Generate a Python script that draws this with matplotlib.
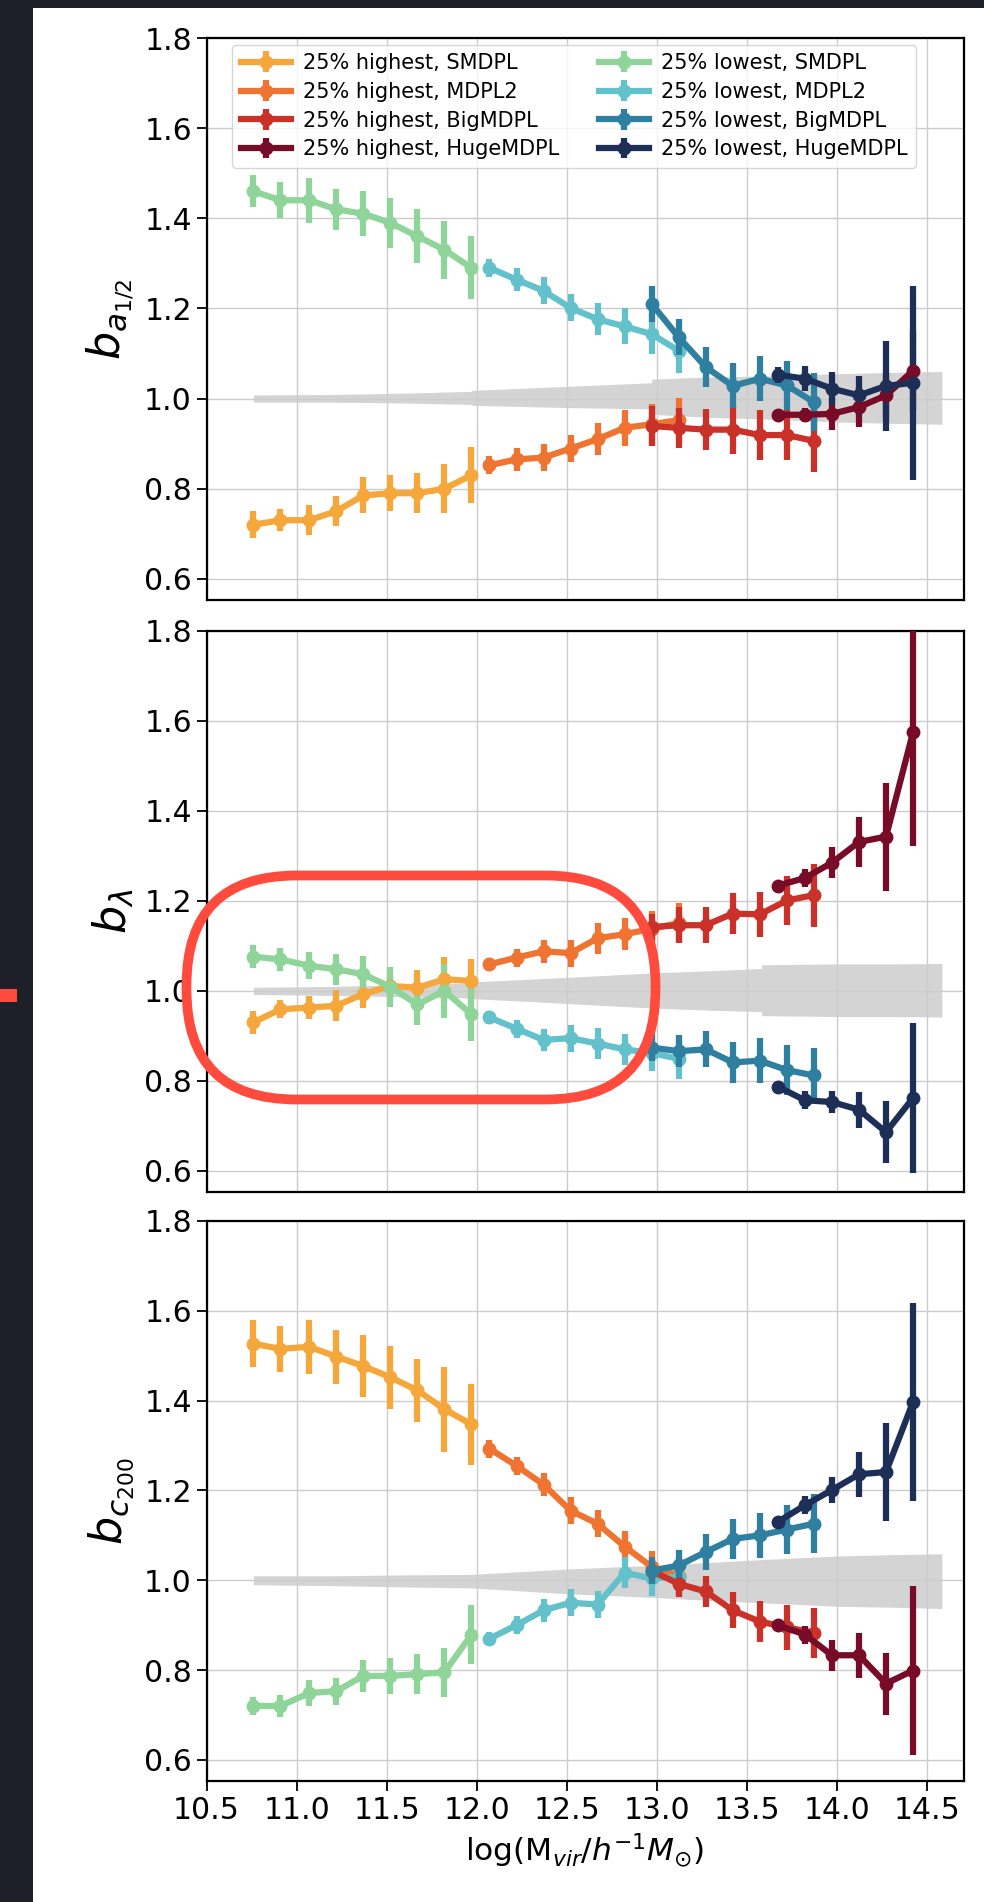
import matplotlib
matplotlib.use('Agg')
import matplotlib.pyplot as plt
import matplotlib.transforms as mtransforms
from matplotlib.patches import FancyBboxPatch, Rectangle

# ---------------- data ----------------
x_smdpl = [10.76, 10.91, 11.07, 11.22, 11.37, 11.52, 11.67, 11.82, 11.97]
x_mdpl2 = [12.07, 12.22, 12.37, 12.52, 12.67, 12.82, 12.97, 13.12]
x_big = [12.97, 13.12, 13.27, 13.42, 13.57, 13.72, 13.87]
x_huge = [13.67, 13.82, 13.97, 14.12, 14.27, 14.42]

# panel 1: b_{a1/2}
a_hi_smdpl = [0.72, 0.73, 0.73, 0.75, 0.785, 0.79, 0.79, 0.80, 0.83]
a_hi_smdpl_err = [0.03, 0.025, 0.033, 0.033, 0.04, 0.04, 0.045, 0.055, 0.062]
a_lo_smdpl = [1.46, 1.44, 1.44, 1.42, 1.41, 1.39, 1.36, 1.33, 1.29]
a_lo_smdpl_err = [0.035, 0.04, 0.05, 0.045, 0.05, 0.055, 0.06, 0.065, 0.07]
a_hi_mdpl2 = [0.852, 0.865, 0.869, 0.889, 0.91, 0.935, 0.943, 0.952]
a_hi_mdpl2_err = [0.02, 0.025, 0.03, 0.03, 0.035, 0.04, 0.045, 0.05]
a_lo_mdpl2 = [1.29, 1.264, 1.239, 1.201, 1.176, 1.16, 1.143, 1.106]
a_lo_mdpl2_err = [0.02, 0.025, 0.03, 0.03, 0.035, 0.04, 0.045, 0.05]
a_hi_big = [0.939, 0.935, 0.931, 0.931, 0.919, 0.919, 0.906]
a_hi_big_err = [0.045, 0.045, 0.045, 0.055, 0.055, 0.055, 0.07]
a_lo_big = [1.21, 1.136, 1.07, 1.028, 1.044, 1.029, 0.992]
a_lo_big_err = [0.04, 0.04, 0.045, 0.05, 0.05, 0.055, 0.065]
a_hi_huge = [0.964, 0.964, 0.966, 0.981, 1.007, 1.062]
a_hi_huge_err = [0.01, 0.015, 0.035, 0.045, 0.05, 0.09]
a_lo_huge = [1.053, 1.044, 1.022, 1.007, 1.028, 1.035]
a_lo_huge_err = [0.018, 0.028, 0.037, 0.044, 0.1, 0.215]

# panel 2: b_lambda
l_hi_smdpl = [0.930, 0.959, 0.963, 0.967, 0.993, 1.011, 1.007, 1.026, 1.022]
l_hi_smdpl_err = [0.025, 0.02, 0.025, 0.035, 0.03, 0.03, 0.04, 0.05, 0.05]
l_lo_smdpl = [1.076, 1.070, 1.056, 1.048, 1.037, 1.009, 0.970, 1.0, 0.948]
l_lo_smdpl_err = [0.025, 0.025, 0.03, 0.035, 0.04, 0.045, 0.045, 0.06, 0.06]
l_hi_mdpl2 = [1.059, 1.074, 1.088, 1.084, 1.117, 1.126, 1.138, 1.151]
l_hi_mdpl2_err = [0.015, 0.02, 0.025, 0.03, 0.035, 0.035, 0.04, 0.045]
l_lo_mdpl2 = [0.941, 0.916, 0.891, 0.895, 0.883, 0.870, 0.862, 0.849]
l_lo_mdpl2_err = [0.015, 0.02, 0.025, 0.03, 0.035, 0.035, 0.04, 0.045]
l_hi_big = [1.142, 1.146, 1.146, 1.172, 1.170, 1.201, 1.213]
l_hi_big_err = [0.03, 0.04, 0.04, 0.045, 0.05, 0.055, 0.07]
l_lo_big = [0.874, 0.866, 0.870, 0.841, 0.845, 0.824, 0.812]
l_lo_big_err = [0.03, 0.035, 0.04, 0.045, 0.05, 0.055, 0.06]
l_hi_huge = [1.234, 1.251, 1.285, 1.331, 1.343, 1.575]
l_hi_huge_err = [0.01, 0.02, 0.035, 0.055, 0.12, 0.253]
l_lo_huge = [0.787, 0.757, 0.753, 0.736, 0.686, 0.762]
l_lo_huge_err = [0.01, 0.02, 0.025, 0.04, 0.069, 0.167]

# panel 3: b_{c200}
c_hi_smdpl = [1.527, 1.515, 1.520, 1.498, 1.477, 1.452, 1.423, 1.381, 1.347]
c_hi_smdpl_err = [0.052, 0.052, 0.06, 0.06, 0.07, 0.07, 0.07, 0.095, 0.09]
c_lo_smdpl = [0.720, 0.720, 0.749, 0.753, 0.787, 0.787, 0.791, 0.795, 0.879]
c_lo_smdpl_err = [0.02, 0.025, 0.03, 0.03, 0.035, 0.04, 0.045, 0.055, 0.065]
c_hi_mdpl2 = [1.293, 1.255, 1.213, 1.155, 1.126, 1.075, 1.03, 1.01]
c_hi_mdpl2_err = [0.02, 0.02, 0.025, 0.03, 0.03, 0.035, 0.035, 0.04]
c_lo_mdpl2 = [0.870, 0.900, 0.933, 0.950, 0.946, 1.017, 1.004, 1.008]
c_lo_mdpl2_err = [0.015, 0.02, 0.025, 0.03, 0.03, 0.035, 0.04, 0.04]
c_hi_big = [1.021, 0.992, 0.975, 0.933, 0.908, 0.895, 0.883]
c_hi_big_err = [0.025, 0.03, 0.035, 0.04, 0.045, 0.05, 0.055]
c_lo_big = [1.021, 1.033, 1.063, 1.092, 1.100, 1.113, 1.126]
c_lo_big_err = [0.03, 0.035, 0.04, 0.045, 0.05, 0.055, 0.065]
c_hi_huge = [0.900, 0.879, 0.833, 0.833, 0.770, 0.799]
c_hi_huge_err = [0.01, 0.02, 0.035, 0.05, 0.069, 0.188]
c_lo_huge = [1.130, 1.167, 1.201, 1.236, 1.241, 1.397]
c_lo_huge_err = [0.01, 0.02, 0.03, 0.05, 0.109, 0.22]

# grey noise band around 1
band_x = [10.76, 11.2, 11.6, 11.97, 11.97, 12.5, 12.97, 12.97, 13.3, 13.58, 13.58, 14.0, 14.3, 14.58]
a_band_up = [0.008, 0.009, 0.012, 0.016, 0.018, 0.027, 0.035, 0.043, 0.048, 0.05, 0.05, 0.055, 0.058, 0.06]
a_band_dn = [0.008, 0.008, 0.010, 0.013, 0.015, 0.02, 0.023, 0.035, 0.042, 0.045, 0.045, 0.052, 0.055, 0.057]
l_band_up = [0.008, 0.010, 0.014, 0.018, 0.02, 0.03, 0.04, 0.04, 0.045, 0.05, 0.058, 0.06, 0.06, 0.061]
l_band_dn = [0.008, 0.010, 0.013, 0.016, 0.017, 0.028, 0.038, 0.038, 0.043, 0.046, 0.055, 0.057, 0.057, 0.058]
c_band_up = [0.01, 0.01, 0.012, 0.013, 0.013, 0.025, 0.033, 0.033, 0.04, 0.046, 0.046, 0.054, 0.057, 0.059]
c_band_dn = [0.01, 0.012, 0.015, 0.017, 0.017, 0.03, 0.038, 0.038, 0.045, 0.05, 0.05, 0.058, 0.06, 0.063]

sims = ['SMDPL', 'MDPL2', 'BigMDPL', 'HugeMDPL']
hi_colors = ['#f5a73b', '#f07431', '#c93129', '#780b27']
lo_colors = ['#8fd498', '#62c1ca', '#2e7fa0', '#1e2f57']
xticks = [10.5, 11.0, 11.5, 12.0, 12.5, 13.0, 13.5, 14.0, 14.5]
xticklabels = ['10.5', '11.0', '11.5', '12.0', '12.5', '13.0', '13.5', '14.0', '14.5']
yticks = [0.6, 0.8, 1.0, 1.2, 1.4, 1.6, 1.8]
yticklabels = ['0.6', '0.8', '1.0', '1.2', '1.4', '1.6', '1.8']
ylabels = [r'$b_{a_{1/2}}$', r'$b_{\lambda}$', r'$b_{c_{200}}$']
xlabel = r'log(M$_{vir}$/$h^{-1}M_{\odot}$)'

panels = [
    dict(hi=[(a_hi_smdpl, a_hi_smdpl_err), (a_hi_mdpl2, a_hi_mdpl2_err), (a_hi_big, a_hi_big_err), (a_hi_huge, a_hi_huge_err)],
         lo=[(a_lo_smdpl, a_lo_smdpl_err), (a_lo_mdpl2, a_lo_mdpl2_err), (a_lo_big, a_lo_big_err), (a_lo_huge, a_lo_huge_err)],
         band=(a_band_up, a_band_dn)),
    dict(hi=[(l_hi_smdpl, l_hi_smdpl_err), (l_hi_mdpl2, l_hi_mdpl2_err), (l_hi_big, l_hi_big_err), (l_hi_huge, l_hi_huge_err)],
         lo=[(l_lo_smdpl, l_lo_smdpl_err), (l_lo_mdpl2, l_lo_mdpl2_err), (l_lo_big, l_lo_big_err), (l_lo_huge, l_lo_huge_err)],
         band=(l_band_up, l_band_dn)),
    dict(hi=[(c_hi_smdpl, c_hi_smdpl_err), (c_hi_mdpl2, c_hi_mdpl2_err), (c_hi_big, c_hi_big_err), (c_hi_huge, c_hi_huge_err)],
         lo=[(c_lo_smdpl, c_lo_smdpl_err), (c_lo_mdpl2, c_lo_mdpl2_err), (c_lo_big, c_lo_big_err), (c_lo_huge, c_lo_huge_err)],
         band=(c_band_up, c_band_dn)),
]
xs = [x_smdpl, x_mdpl2, x_big, x_huge]

# ---------------- figure ----------------
W, H = 984, 1902
fig = plt.figure(figsize=(W / 100, H / 100), dpi=100, facecolor='#1e1f29')
px = mtransforms.Affine2D().scale(1.0 / W, 1.0 / H) + fig.transFigure

# white page inside the dark frame
fig.add_artist(Rectangle((33, 0), W - 33, H - 8, transform=px, facecolor='white',
                         edgecolor='none', zorder=-10))
# small red marker at the left edge
fig.add_artist(Rectangle((0, H - 1002), 16.7, 13, transform=px, facecolor='#ff4b3e',
                         edgecolor='none', zorder=5))

ax_left, ax_right = 206.5, 963.5
tops = [38, 631, 1221]
bottoms = [600, 1192, 1781]

axes = []
for i, p in enumerate(panels):
    ax = fig.add_axes([ax_left / W, 1 - bottoms[i] / H, (ax_right - ax_left) / W,
                       (bottoms[i] - tops[i]) / H])
    axes.append(ax)
    up, dn = p['band']
    ax.fill_between(band_x, [1 - d for d in dn], [1 + u for u in up],
                    color='#d4d4d4', lw=0, zorder=1)
    handles_hi, handles_lo = [], []
    for k in range(4):
        yh, eh = p['hi'][k]
        yl, el = p['lo'][k]
        h = ax.errorbar(xs[k], yh, yerr=eh, color=hi_colors[k], marker='o', ms=9,
                        lw=4.5, elinewidth=4.5, capsize=0, zorder=3 + k,
                        label=f'25% highest, {sims[k]}')
        l = ax.errorbar(xs[k], yl, yerr=el, color=lo_colors[k], marker='o', ms=9,
                        lw=4.5, elinewidth=4.5, capsize=0, zorder=3 + k,
                        label=f'25% lowest, {sims[k]}')
        handles_hi.append(h)
        handles_lo.append(l)
    ax.set_xlim(10.5, 14.7)
    ax.set_ylim(0.553, 1.8)
    ax.set_xticks(xticks)
    ax.set_yticks(yticks)
    ax.set_yticklabels(yticklabels)
    ax.grid(True, color='#cccccc', lw=1.0)
    ax.tick_params(axis='both', labelsize=21.5, length=7, width=1.3, direction='out')
    for s in ax.spines.values():
        s.set_linewidth(1.6)
        s.set_color('black')
    ax.set_ylabel(ylabels[i], fontsize=32, labelpad=6)
    if i < 2:
        ax.tick_params(axis='x', bottom=False, labelbottom=False)
    else:
        ax.set_xticklabels(xticklabels)
        ax.set_xlabel(xlabel, fontsize=22.5, labelpad=5)
    if i == 0:
        leg = ax.legend(handles_hi + handles_lo,
                        [hh.get_label() for hh in handles_hi + handles_lo],
                        ncol=2, fontsize=15, loc='upper left',
                        bbox_to_anchor=(0.034, 0.988), borderaxespad=0,
                        labelspacing=0.42, handlelength=2.4, handletextpad=0.6,
                        columnspacing=1.9, framealpha=0.8, edgecolor='#cccccc')
        leg.set_zorder(20)

# red rounded annotation around middle-panel region
fig.add_artist(FancyBboxPatch((186.5, H - 1099.5), 469, 224,
                              boxstyle='round,pad=0,rounding_size=110',
                              transform=px, fill=False, edgecolor='#ff4b3e',
                              lw=7, zorder=30))

fig.savefig('out.png', dpi=100, facecolor=fig.get_facecolor())
